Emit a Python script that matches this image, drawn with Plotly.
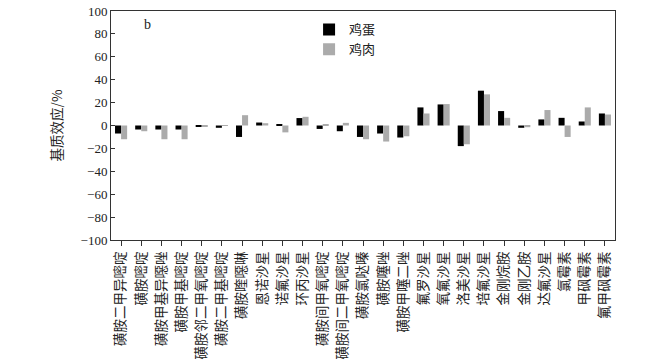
import plotly.graph_objects as go

categories = ["磺胺二甲异嘧啶", "磺胺嘧啶", "磺胺甲基异噁唑", "磺胺甲基嘧啶", "磺胺邻二甲氧嘧啶",
              "磺胺二甲基嘧啶", "磺胺喹噁啉", "恩诺沙星", "诺氟沙星", "环丙沙星",
              "磺胺间甲氧嘧啶", "磺胺间二甲氧嘧啶", "磺胺氯哒嗪", "磺胺噻唑", "磺胺甲噻二唑",
              "氟罗沙星", "氧氟沙星", "洛美沙星", "培氟沙星", "金刚烷胺",
              "金刚乙胺", "达氟沙星", "氯霉素", "甲砜霉素", "氟甲砜霉素"]
egg = [-7, -3.5, -3.5, -3.5, -1, -2, -10, 2.6, 1, 6.5,
       -3, -5, -10, -7, -10.5, 15.8, 18.4, -18, 30.4, 12.6,
       -2, 5.3, 6.7, 3.5, 10.5]
chicken = [-12, -5, -12, -12, -0.5, -0.3, 9, 2, -6, 7.6,
           1, 2.3, -12, -14, -9.4, 10.5, 18.7, -16.4, 27.2, 6.7,
           -1.5, 13.5, -10, 15.8, 9.6]
y_ticks = [-100, -80, -60, -40, -20, 0, 20, 40, 60, 80, 100]

fig = go.Figure()
fig.add_trace(go.Bar(x=categories, y=egg, name="鸡蛋", marker=dict(color="#000000", line=dict(width=0))))
fig.add_trace(go.Bar(x=categories, y=chicken, name="鸡肉", marker=dict(color="#ababab", line=dict(width=0))))

fig.update_layout(
    width=664, height=362,
    margin=dict(l=111, r=49, t=11, b=122, autoexpand=False),
    paper_bgcolor="white", plot_bgcolor="white",
    barmode="group", bargap=0.4, bargroupgap=0,
    font=dict(family="Liberation Serif, Noto Sans CJK SC", size=13, color="#222"),
    showlegend=True,
    legend=dict(x=0.393, y=0.985, xanchor="left", yanchor="top",
                bgcolor="rgba(0,0,0,0)", font=dict(family="Noto Sans CJK SC", size=13, color="#222"),
                itemwidth=30, tracegroupgap=0),
    annotations=[dict(text="b", x=0.072, y=0.94, xref="paper", yref="paper",
                      xanchor="center", yanchor="middle",
                      showarrow=False, font=dict(family="Liberation Serif", size=14, color="#222"))],
)
fig.update_xaxes(
    ticks="outside", ticklen=5, tickcolor="#333",
    showline=True, linecolor="#333", linewidth=1, mirror=True,
    tickfont=dict(family="Noto Sans CJK SC", size=13.5, color="#222"),
    tickangle=-90, showgrid=False, zeroline=False, automargin=False,
)
fig.update_yaxes(
    range=[-100, 100], tickvals=y_ticks,
    ticks="inside", ticklen=4, tickcolor="#333",
    showline=True, linecolor="#333", linewidth=1, mirror=True,
    tickfont=dict(family="Liberation Serif", size=13, color="#222"),
    showgrid=False, zeroline=False, automargin=False,
    title=dict(text="基质效应/%", font=dict(family="Noto Sans CJK SC", size=13.5, color="#222"), standoff=14),
)
fig.write_html("out.html")
